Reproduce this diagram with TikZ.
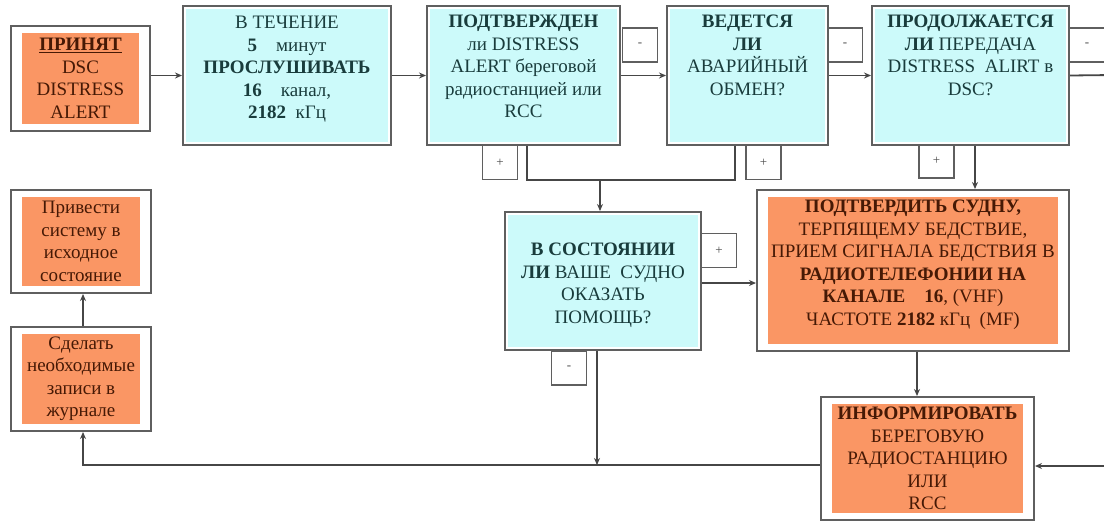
\documentclass[tikz,border=0pt]{standalone}
\usepackage{fontspec}
\setmainfont{Liberation Serif}
\usetikzlibrary{calc,arrows.meta}
\definecolor{orfill}{RGB}{250,150,100}
\definecolor{cyfill}{RGB}{204,250,250}
\definecolor{cytext}{RGB}{25,60,60}
\definecolor{ortext}{RGB}{70,25,5}
\definecolor{framec}{RGB}{95,95,95}
\definecolor{wirec}{RGB}{70,70,70}
\begin{document}
\begin{tikzpicture}[x=1pt,y=-1pt,
  orbox/.style={draw=framec, line width=2pt, fill=white, inner sep=0pt,
    path picture={\fill[orfill] ([shift={(11pt,7pt)}]path picture bounding box.south west) rectangle ([shift={(-11pt,-7pt)}]path picture bounding box.north east);}},
  cybox/.style={draw=framec, line width=2pt, fill=white, inner sep=0pt,
    path picture={\fill[cyfill] ([shift={(3pt,3pt)}]path picture bounding box.south west) rectangle ([shift={(-3pt,-3pt)}]path picture bounding box.north east);}},
  ortxt/.style={text=ortext, align=center, inner sep=0pt, font=\fontsize{19}{22.5}\selectfont},
  cytxt/.style={text=cytext, align=center, inner sep=0pt, font=\fontsize{19}{22.5}\selectfont},
  lab/.style={draw=framec, line width=1.6pt, fill=white, minimum width=35pt, minimum height=34pt, inner sep=0pt, font=\fontsize{13}{13}\selectfont, text=black!70},
  wire/.style={draw=wirec, line width=1.8pt},
  arr/.style={wire, -{Stealth[length=7pt,width=6pt]}}
]
\useasboundingbox (0,0) rectangle (1104,523);
\clip (0,0) rectangle (1104,523);
\fill[white] (0,0) rectangle (1104,523);

% label boxes
\node[lab] (l3m) at (640,45) {-};
\node[lab] (l4m) at (845,45) {-};
\node[lab] (l5m) at (1087,45) {-};
\node[lab] (l3p) at (500,162.5) {+};
\node[lab] (l4p) at (763.5,162.5) {+};
\node[lab] (l5p) at (936.5,161) {+};
\node[lab] (l8p) at (719,250.5) {+};
\node[lab] (l8m) at (569,368) {-};

% main boxes
\node[orbox, minimum width=139pt, minimum height=105pt] (b1) at (80.5,78.5) {};
\node[cybox, minimum width=208pt, minimum height=139pt] (b2) at (287,75.5) {};
\node[cybox, minimum width=193pt, minimum height=139pt] (b3) at (523.5,75.5) {};
\node[cybox, minimum width=161pt, minimum height=139pt] (b4) at (747.5,75.5) {};
\node[cybox, minimum width=197pt, minimum height=139pt] (b5) at (970.5,75.5) {};
\node[orbox, minimum width=140pt, minimum height=103pt] (b6) at (81,241.5) {};
\node[orbox, minimum width=140pt, minimum height=104pt] (b7) at (81,379) {};
\node[cybox, minimum width=196pt, minimum height=138pt] (b8) at (603,281) {};
\node[orbox, minimum width=312pt, minimum height=161pt] (b9) at (913,270.5) {};
\node[orbox, minimum width=213pt, minimum height=123pt] (b10) at (927.5,458.5) {};

% texts
\node[ortxt] (t1) at (b1.center) {\underline{\textbf{ПРИНЯТ}}\\DSC\\DISTRESS\\ALERT};
\node[cytxt, anchor=north] (t2) at ($(b2.north)+(0,11)$) {В ТЕЧЕНИЕ\\\textbf{5}\quad минут\\\textbf{ПРОСЛУШИВАТЬ}\\\textbf{16}\quad канал,\\\textbf{2182}\enspace кГц};
\node[cytxt, anchor=north] (t3) at ($(b3.north)+(0,10)$) {\textbf{ПОДТВЕРЖДЕН}\\ли DISTRESS\\ALERT береговой\\радиостанцией или\\RCC};
\node[cytxt, anchor=north] (t4) at ($(b4.north)+(0,10)$) {\textbf{ВЕДЕТСЯ}\\\textbf{ЛИ}\\АВАРИЙНЫЙ\\ОБМЕН?};
\node[cytxt, anchor=north] (t5) at ($(b5.north)+(0,10)$) {\textbf{ПРОДОЛЖАЕТСЯ}\\\textbf{ЛИ} ПЕРЕДАЧА\\DISTRESS\enspace ALIRT в\\DSC?};
\node[ortxt] (t6) at (b6.center) {Привести\\систему в\\исходное\\состояние};
\node[ortxt] (t7) at (b7.center) {Сделать\\необходимые\\записи в\\журнале};
\node[cytxt] (t8) at ($(b8.center)+(0,4)$) {\textbf{В СОСТОЯНИИ}\\\textbf{ЛИ} ВАШЕ\enspace СУДНО\\ОКАЗАТЬ\\ПОМОЩЬ?};
\node[ortxt] (t9) at ($(b9.center)+(0,-6)$) {\textbf{ПОДТВЕРДИТЬ СУДНУ,}\\ТЕРПЯЩЕМУ БЕДСТВИЕ,\\ПРИЕМ СИГНАЛА БЕДСТВИЯ В\\\textbf{РАДИОТЕЛЕФОНИИ НА}\\\textbf{КАНАЛЕ\quad 16}, (VHF)\\ЧАСТОТЕ \textbf{2182} кГц\enspace(MF)};
\node[ortxt] (t10) at (b10.center) {\textbf{ИНФОРМИРОВАТЬ}\\БЕРЕГОВУЮ\\РАДИОСТАНЦИЮ\\ИЛИ\\RCC};

% helper coordinates
\coordinate (p3) at (527,180);
\coordinate (p4) at (735,180);
\coordinate (j1) at (600,180);
\coordinate (p5) at (975,170);
\coordinate (p8) at (0,283);
\coordinate (p9) at (917,0);
\coordinate (bj) at (597,465);
\coordinate (b0) at (83,465);
\coordinate (r1) at (1112,75);
\coordinate (r2) at (1112,466);

% connectors
\draw[arr] (b1.east |- b2.west) -- (b2.west);
\draw[arr] (b2.east) -- (b3.west);
\draw[arr] (b3.east) -- (b4.west);
\draw[arr] (b4.east) -- (b5.west);
\draw[wire] (b5.east) -- (r1) -- (r2);
\draw[arr] (r2) -- (b10.east |- r2);
\draw[wire] (p3 |- b3.south) -- (p3) -- (p4) -- (p4 |- b4.south);
\draw[arr] (j1) -- (j1 |- b8.north);
\draw[arr] (p5 |- b5.south) -- (p5 |- b9.north);
\draw[arr] (b8.east |- p8) -- (b9.west |- p8);
\draw[arr] (bj |- b8.south) -- (bj);
\draw[arr] (b10.west |- bj) -- (b0) -- (b0 |- b7.south);
\draw[arr] (b0 |- b7.north) -- (b0 |- b6.south);
\draw[arr] (p9 |- b9.south) -- (p9 |- b10.north);
\end{tikzpicture}
\end{document}
